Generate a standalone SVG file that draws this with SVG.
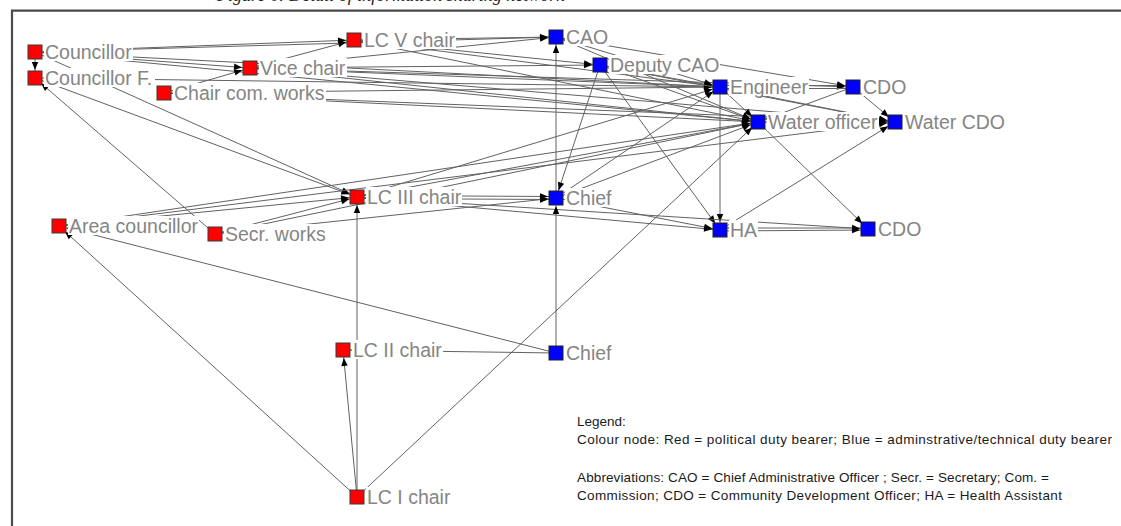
<svg xmlns="http://www.w3.org/2000/svg" width="1121" height="526" viewBox="0 0 1121 526">
  <style>
    .frame { stroke: #4a4a4a; stroke-width: 2.2; fill: none; }
    .title { font-family: "Liberation Serif", serif; font-style: italic; font-size: 18px; fill: #222; }
    .e { stroke: #626262; stroke-width: 1; fill: none; }
    .a { marker-end: url(#arr); }
    .pol { fill: #ff0000; stroke: #3a3a3a; stroke-width: 1; }
    .adm { fill: #0000ff; stroke: #222; stroke-width: 1; }
    .lb { fill: #ffffff; }
    .lt { font-family: "Liberation Sans", Arial, sans-serif; font-size: 19.5px; fill: #858585; }
    .lg { font-family: "Liberation Sans", Arial, sans-serif; font-size: 13.5px; fill: #1a1a1a; }
  </style>
  <defs>
    <marker id="arr" markerUnits="userSpaceOnUse" markerWidth="20" markerHeight="20" refX="16" refY="0" orient="auto" overflow="visible">
      <path d="M0,-3.2 L8,0 L0,3.2 z" fill="#000"/>
    </marker>
  </defs>

  <rect width="1121" height="526" fill="#ffffff"/>

  <!-- caption, cut at the top edge -->
  <text class="title" x="217" y="0.8">Figure 6: Detail of information sharing network</text>

  <!-- frame -->
  <path class="frame" d="M12,526 V10.7 H1121"/>

  <!-- ties -->
  <g id="connectors">
    <line class="e a" x1="35" y1="52" x2="35" y2="78"/>
    <line class="e a" x1="35" y1="52" x2="354" y2="40"/>
    <line class="e a" x1="35" y1="52" x2="250" y2="68"/>
    <line class="e a" x1="35" y1="52" x2="556" y2="37"/>
    <line class="e a" x1="35" y1="52" x2="720" y2="87"/>
    <line class="e a" x1="35" y1="52" x2="758" y2="122"/>
    <line class="e a" x1="35" y1="52" x2="357" y2="197"/>
    <line class="e a" x1="35" y1="78" x2="357" y2="197"/>
    <line class="e a" x1="215" y1="234" x2="35" y2="78"/>
    <line class="e a" x1="35" y1="78" x2="720" y2="87"/>
    <line class="e a" x1="164" y1="93" x2="250" y2="68"/>
    <line class="e a" x1="164" y1="93" x2="720" y2="87"/>
    <line class="e a" x1="164" y1="93" x2="758" y2="122"/>
    <line class="e a" x1="164" y1="93" x2="895" y2="122"/>
    <line class="e a" x1="250" y1="68" x2="354" y2="40"/>
    <line class="e a" x1="250" y1="68" x2="556" y2="37"/>
    <line class="e a" x1="250" y1="68" x2="600" y2="65"/>
    <line class="e a" x1="250" y1="68" x2="720" y2="87"/>
    <line class="e a" x1="250" y1="68" x2="853" y2="87"/>
    <line class="e a" x1="250" y1="68" x2="758" y2="122"/>
    <line class="e a" x1="250" y1="68" x2="895" y2="122"/>
    <line class="e a" x1="354" y1="40" x2="556" y2="37"/>
    <line class="e a" x1="354" y1="40" x2="600" y2="65"/>
    <line class="e a" x1="354" y1="40" x2="720" y2="87"/>
    <line class="e a" x1="354" y1="40" x2="758" y2="122"/>
    <line class="e a" x1="556" y1="37" x2="853" y2="87"/>
    <line class="e a" x1="556" y1="37" x2="720" y2="87"/>
    <line class="e a" x1="556" y1="37" x2="758" y2="122"/>
    <line class="e a" x1="556" y1="198" x2="556" y2="37"/>
    <line class="e a" x1="600" y1="65" x2="556" y2="198"/>
    <line class="e a" x1="600" y1="65" x2="720" y2="230"/>
    <line class="e a" x1="600" y1="65" x2="720" y2="87"/>
    <line class="e a" x1="600" y1="65" x2="758" y2="122"/>
    <line class="e a" x1="600" y1="65" x2="895" y2="122"/>
    <line class="e a" x1="720" y1="87" x2="720" y2="230"/>
    <line class="e a" x1="720" y1="85.5" x2="853" y2="85.5"/>
    <line class="e a" x1="853" y1="88.5" x2="720" y2="88.5"/>
    <line class="e a" x1="853" y1="87" x2="758" y2="122"/>
    <line class="e a" x1="853" y1="87" x2="895" y2="122"/>
    <line class="e a" x1="758" y1="122" x2="895" y2="122"/>
    <line class="e a" x1="758" y1="122" x2="868" y2="229"/>
    <line class="e a" x1="720" y1="87" x2="758" y2="122"/>
    <line class="e a" x1="720" y1="87" x2="895" y2="122"/>
    <line class="e a" x1="720" y1="230" x2="895" y2="122"/>
    <line class="e a" x1="720" y1="231" x2="868" y2="230"/>
    <line class="e a" x1="868" y1="228" x2="720" y2="228"/>
    <line class="e a" x1="357" y1="195.5" x2="556" y2="196.5"/>
    <line class="e a" x1="357" y1="198.5" x2="556" y2="199.5"/>
    <line class="e a" x1="357" y1="197" x2="720" y2="230"/>
    <line class="e a" x1="357" y1="197" x2="868" y2="229"/>
    <line class="e a" x1="357" y1="197" x2="720" y2="87"/>
    <line class="e a" x1="357" y1="197" x2="758" y2="122"/>
    <line class="e a" x1="357" y1="497" x2="357" y2="197"/>
    <line class="e a" x1="357" y1="497" x2="343" y2="350"/>
    <line class="e a" x1="357" y1="497" x2="758" y2="122"/>
    <line class="e a" x1="556" y1="353" x2="343" y2="350"/>
    <line class="e a" x1="556" y1="353" x2="556" y2="198"/>
    <line class="e a" x1="556" y1="353" x2="59" y2="226"/>
    <line class="e a" x1="357" y1="497" x2="59" y2="226"/>
    <line class="e a" x1="59" y1="226" x2="357" y2="197"/>
    <line class="e a" x1="59" y1="226" x2="895" y2="122"/>
    <line class="e a" x1="59" y1="226" x2="758" y2="122"/>
    <line class="e a" x1="215" y1="234" x2="357" y2="197"/>
    <line class="e a" x1="215" y1="234" x2="556" y2="198"/>
    <line class="e a" x1="215" y1="234" x2="758" y2="122"/>
    <line class="e a" x1="556" y1="198" x2="720" y2="87"/>
    <line class="e a" x1="556" y1="198" x2="758" y2="122"/>
    <line class="e a" x1="556" y1="198" x2="720" y2="230"/>
  </g>

  <!-- political duty bearers -->
  <g id="councillor"><rect class="pol" x="28" y="45" width="14" height="14"/><rect class="lb" x="44" y="42" width="89" height="19"/><text class="lt" x="45" y="59">Councillor</text></g>
  <g id="councillor-f"><rect class="pol" x="28" y="71" width="14" height="14"/><rect class="lb" x="44" y="68" width="111" height="19"/><text class="lt" x="45" y="85">Councillor F.</text></g>
  <g id="chair-com-works"><rect class="pol" x="157" y="86" width="14" height="14"/><rect class="lb" x="173" y="83" width="153" height="19"/><text class="lt" x="174" y="100">Chair com. works</text></g>
  <g id="vice-chair"><rect class="pol" x="243" y="61" width="14" height="14"/><rect class="lb" x="259" y="58" width="88" height="19"/><text class="lt" x="260" y="75">Vice chair</text></g>
  <g id="lc-v-chair"><rect class="pol" x="347" y="33" width="14" height="14"/><rect class="lb" x="363" y="30" width="93" height="19"/><text class="lt" x="364" y="47">LC V chair</text></g>
  <g id="lc-iii-chair"><rect class="pol" x="350" y="190" width="14" height="14"/><rect class="lb" x="366" y="187" width="96" height="19"/><text class="lt" x="367" y="204">LC III chair</text></g>
  <g id="area-councillor"><rect class="pol" x="52" y="219" width="14" height="14"/><rect class="lb" x="68" y="216" width="131" height="19"/><text class="lt" x="69" y="233">Area councillor</text></g>
  <g id="secr-works"><rect class="pol" x="208" y="227" width="14" height="14"/><rect class="lb" x="224" y="224" width="104" height="19"/><text class="lt" x="225" y="241">Secr. works</text></g>
  <g id="lc-ii-chair"><rect class="pol" x="336" y="343" width="14" height="14"/><rect class="lb" x="352" y="340" width="91" height="19"/><text class="lt" x="353" y="357">LC II chair</text></g>
  <g id="lc-i-chair"><rect class="pol" x="350" y="490" width="14" height="14"/><rect class="lb" x="366" y="487" width="86" height="19"/><text class="lt" x="367" y="504">LC I chair</text></g>

  <!-- administrative / technical duty bearers -->
  <g id="cao"><rect class="adm" x="549" y="30" width="14" height="14"/><rect class="lb" x="565" y="27" width="44" height="19"/><text class="lt" x="566" y="44">CAO</text></g>
  <g id="deputy-cao"><rect class="adm" x="593" y="58" width="14" height="14"/><rect class="lb" x="609" y="55" width="111" height="19"/><text class="lt" x="610" y="72">Deputy CAO</text></g>
  <g id="engineer"><rect class="adm" x="713" y="80" width="14" height="14"/><rect class="lb" x="729" y="77" width="80" height="19"/><text class="lt" x="730" y="94">Engineer</text></g>
  <g id="cdo-1"><rect class="adm" x="846" y="80" width="14" height="14"/><rect class="lb" x="862" y="77" width="45" height="19"/><text class="lt" x="863" y="94">CDO</text></g>
  <g id="water-officer"><rect class="adm" x="751" y="115" width="14" height="14"/><rect class="lb" x="767" y="112" width="112" height="19"/><text class="lt" x="768" y="129">Water officer</text></g>
  <g id="water-cdo"><rect class="adm" x="888" y="115" width="14" height="14"/><rect class="lb" x="904" y="112" width="102" height="19"/><text class="lt" x="905" y="129">Water CDO</text></g>
  <g id="chief-1"><rect class="adm" x="549" y="191" width="14" height="14"/><rect class="lb" x="565" y="188" width="47" height="19"/><text class="lt" x="566" y="205">Chief</text></g>
  <g id="ha"><rect class="adm" x="713" y="223" width="14" height="14"/><rect class="lb" x="729" y="220" width="29" height="19"/><text class="lt" x="730" y="237">HA</text></g>
  <g id="cdo-2"><rect class="adm" x="861" y="222" width="14" height="14"/><rect class="lb" x="877" y="219" width="45" height="19"/><text class="lt" x="878" y="236">CDO</text></g>
  <g id="chief-2"><rect class="adm" x="549" y="346" width="14" height="14"/><rect class="lb" x="565" y="343" width="47" height="19"/><text class="lt" x="566" y="360">Chief</text></g>

  <!-- legend -->
  <g id="legend">
    <text class="lg" x="577" y="426">Legend:</text>
    <text class="lg" x="577" y="444" textLength="535" lengthAdjust="spacing">Colour node: Red = political duty bearer; Blue = adminstrative/technical duty bearer</text>
    <text class="lg" x="577" y="482" textLength="472" lengthAdjust="spacing">Abbreviations: CAO = Chief Administrative Officer ; Secr. = Secretary; Com. =</text>
    <text class="lg" x="577" y="500" textLength="485" lengthAdjust="spacing">Commission; CDO = Community Development Officer; HA = Health Assistant</text>
  </g>
</svg>
